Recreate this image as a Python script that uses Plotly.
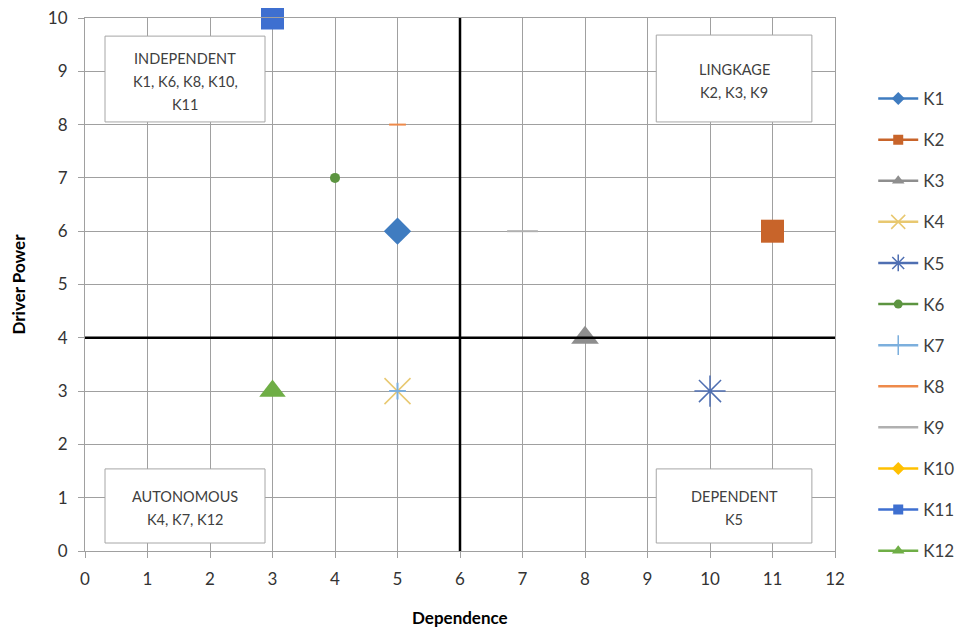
import plotly.graph_objects as go

names = ["K1", "K2", "K3", "K4", "K5", "K6", "K7", "K8", "K9", "K10", "K11", "K12"]
dependence = [5, 11, 8, 5, 10, 4, 5, 5, 7, 3, 3, 3]
driver_power = [6, 6, 4, 3, 3, 7, 3, 8, 6, 10, 10, 3]

symbols = ["diamond", "square", "triangle-up", "x-thin-open", "asterisk-open", "circle",
           "cross-thin-open", "line-ew-open", "line-ew-open", "diamond", "square", "triangle-up"]
sizes = [21, 23, 24, 26, 26, 10, 12, 12, 22, 16, 23, 23]
legend_sizes = [10, 10, 11, 14, 14, 9, 14, 6, 0, 10, 10, 11]
colors = ["#3F7CC0", "#C8642A", "#8E8E8E", "#E8C870", "#4F6FB2", "#5C9440",
          "#7CAFDD", "#EE8A4A", "#B0B0B0", "#FFC000", "#3E6FD0", "#6FAE46"]

quadrant_lines = [
    ["INDEPENDENT", "K1, K6, K8, K10,", "K11"],
    ["LINGKAGE", "K2, K3, K9"],
    ["AUTONOMOUS", "K4, K7, K12"],
    ["DEPENDENT", "K5"],
]
quadrant_boxes = [(0.32, 2.88, 8.05, 9.66), (9.14, 11.63, 8.05, 9.68),
                  (0.32, 2.88, 0.15, 1.54), (9.14, 11.63, 0.15, 1.54)]

FONT = "Lato, Carlito, sans-serif"

fig = go.Figure()
for i, n in enumerate(names):
    is_open = "open" in symbols[i]
    fig.add_trace(go.Scatter(
        x=[dependence[i]], y=[driver_power[i]], name=n, mode="markers",
        showlegend=False,
        marker=dict(symbol=symbols[i], size=sizes[i], color=colors[i],
                    line=dict(color=colors[i], width=(1.5 if symbols[i].startswith(("x", "ast")) else 2) if is_open else 0)),
        cliponaxis=False,
    ))
for i, n in enumerate(names):
    is_open = "open" in symbols[i]
    fig.add_trace(go.Scatter(
        x=[None], y=[None], name=n, mode="lines+markers", legendgroup=n,
        line=dict(color=colors[i], width=2.5),
        marker=dict(symbol=symbols[i], size=legend_sizes[i], color=colors[i],
                    line=dict(color=colors[i], width=1.5 if is_open else 0)),
    ))

for lines, (x0, x1, y0, y1) in zip(quadrant_lines, quadrant_boxes):
    fig.add_shape(type="rect", x0=x0, x1=x1, y0=y0, y1=y1, xref="x", yref="y",
                  fillcolor="white", line=dict(color="#A6A6A6", width=1), layer="above")
    nl = len(lines)
    for j, t in enumerate(lines):
        fig.add_annotation(x=(x0 + x1) / 2, y=(y0 + y1) / 2, text=t, showarrow=False,
                           yshift=-(j - (nl - 1) / 2) * 23 - 2,
                           font=dict(family=FONT, size=14.5, color="#404040"))

fig.add_shape(type="line", x0=6, x1=6, y0=0, y1=10, xref="x", yref="y",
              line=dict(color="black", width=2.5))
fig.add_shape(type="line", x0=0, x1=12, y0=4, y1=4, xref="x", yref="y",
              line=dict(color="black", width=2.5))

axis_common = dict(showgrid=True, gridcolor="#A0A0A0", gridwidth=1,
                   showline=True, linecolor="#A0A0A0", linewidth=1, mirror=True,
                   ticks="outside", ticklen=6, tickcolor="#A0A0A0", zeroline=False,
                   tickfont=dict(family=FONT, size=17, color="#333333"),
                   dtick=1, automargin=False, ticklabelstandoff=7,
                   ticklabeloverflow="allow")
fig.update_xaxes(range=[0, 12], **axis_common)
fig.update_yaxes(range=[0, 10], **axis_common)

fig.add_annotation(xref="paper", yref="paper", x=0.5, y=0, yshift=-66, yanchor="middle",
                   text="<b>Dependence</b>", showarrow=False,
                   font=dict(family=FONT, size=17, color="#000"))
fig.add_annotation(xref="paper", yref="paper", x=0, xshift=-67, y=0.5, xanchor="center",
                   textangle=-90, text="<b>Driver Power</b>", showarrow=False,
                   font=dict(family=FONT, size=17, color="#000"))

fig.update_layout(
    width=955, height=624,
    margin=dict(l=77, r=128, t=10, b=81),
    plot_bgcolor="white", paper_bgcolor="white",
    legend=dict(xref="container", yref="container", x=0.906, y=0.883,
                xanchor="left", yanchor="top", itemwidth=40, maxheight=620,
                tracegroupgap=16, font=dict(family=FONT, size=17, color="#404040"),
                bgcolor="rgba(0,0,0,0)"),
    showlegend=True,
)

fig.write_html("out.html", config={"displayModeBar": False})
